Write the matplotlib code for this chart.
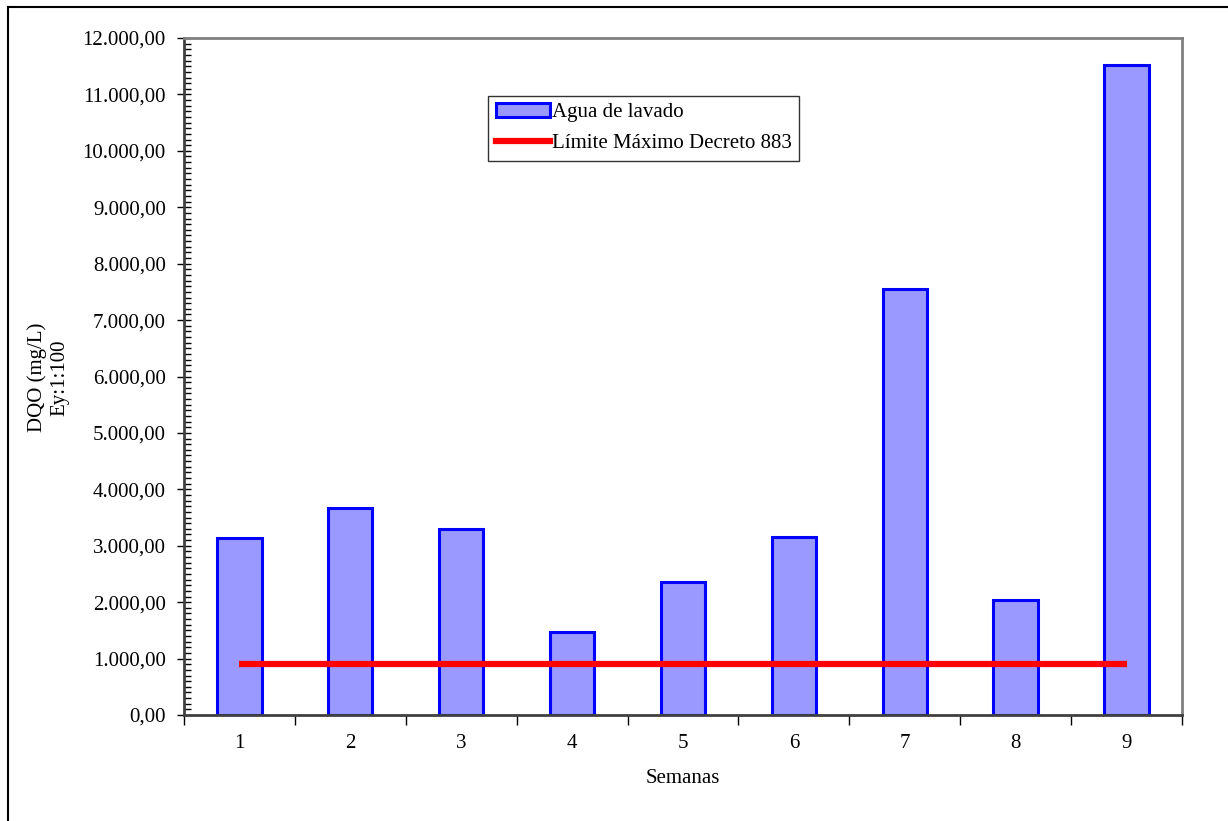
import matplotlib.pyplot as plt
import numpy as np
from matplotlib.ticker import FuncFormatter, MultipleLocator
from matplotlib.lines import Line2D

plt.rcParams['font.family'] = ['Liberation Serif', 'DejaVu Serif']

semanas = [1, 2, 3, 4, 5, 6, 7, 8, 9]
dqo_agua_lavado = [3140, 3670, 3300, 1470, 2360, 3150, 7550, 2040, 11520]
limite_decreto = 900


def fmt_es(v, pos):
    # formato con punto de miles y coma decimal
    s = f"{v:,.2f}"
    return s.replace(',', 'X').replace('.', ',').replace('X', '.')


fig = plt.figure(figsize=(12.28, 8.21), dpi=100)
ax = fig.add_axes([0.1498, 0.1291, 0.8127, 0.8246])

x = np.arange(len(semanas))
ax.bar(x, dqo_agua_lavado, width=0.4, color='#9999ff', edgecolor='#0000ff',
       linewidth=2.2, label='Agua de lavado', zorder=2)
ax.plot(x, [limite_decreto] * len(semanas), color='#ff0000', linewidth=4.5,
        solid_capstyle='butt', label='Límite Máximo Decreto 883', zorder=3)

ax.set_xlim(-0.5, len(semanas) - 0.5)
ax.set_ylim(0, 12000)

ax.set_xticks(x)
ax.set_xticklabels([str(s) for s in semanas])
ax.set_xticks(np.arange(-0.5, len(semanas), 1), minor=True)
ax.tick_params(axis='x', which='major', length=0, pad=14, labelsize=15)
ax.tick_params(axis='x', which='minor', length=7, direction='out', width=1)

ax.yaxis.set_major_locator(MultipleLocator(1000))
ax.yaxis.set_minor_locator(MultipleLocator(100))
ax.yaxis.set_major_formatter(FuncFormatter(fmt_es))
ax.tick_params(axis='y', which='major', length=10, direction='inout', width=1,
               labelsize=15, pad=8)
ax.tick_params(axis='y', which='minor', length=5, direction='in', width=1)

for side in ['top', 'right']:
    ax.spines[side].set_color('#808080')
    ax.spines[side].set_linewidth(2)
for side in ['left', 'bottom']:
    ax.spines[side].set_color('#404040')
    ax.spines[side].set_linewidth(2)

ax.set_xlabel('Semanas', fontsize=15, labelpad=11)
fig.text(0.039, 0.54, 'DQO (mg/L)\nEy:1:100', rotation=90,
         ha='center', va='center', fontsize=15, linespacing=1.25)

handles = [plt.Rectangle((0, 0), 1, 1, facecolor='#9999ff', edgecolor='#0000ff', linewidth=2.2),
           Line2D([0], [0], color='#ff0000', linewidth=4.5)]
leg = ax.legend(handles, ['Agua de lavado', 'Límite Máximo Decreto 883'],
                loc='upper left', bbox_to_anchor=(0.305, 0.915), fontsize=15,
                frameon=True, fancybox=False, handlelength=2.6, handletextpad=0.1,
                borderpad=0.35, labelspacing=0.55, borderaxespad=0)
leg.get_frame().set_edgecolor('black')
leg.get_frame().set_linewidth(1)

# marco exterior del gráfico
fig.add_artist(Line2D([0.0065, 1.0], [0.9915, 0.9915], color='black', linewidth=1.5,
                      transform=fig.transFigure))
fig.add_artist(Line2D([0.0065, 0.0065], [0.0, 0.9915], color='black', linewidth=1.5,
                      transform=fig.transFigure))

fig.savefig('out.png', dpi=100)
